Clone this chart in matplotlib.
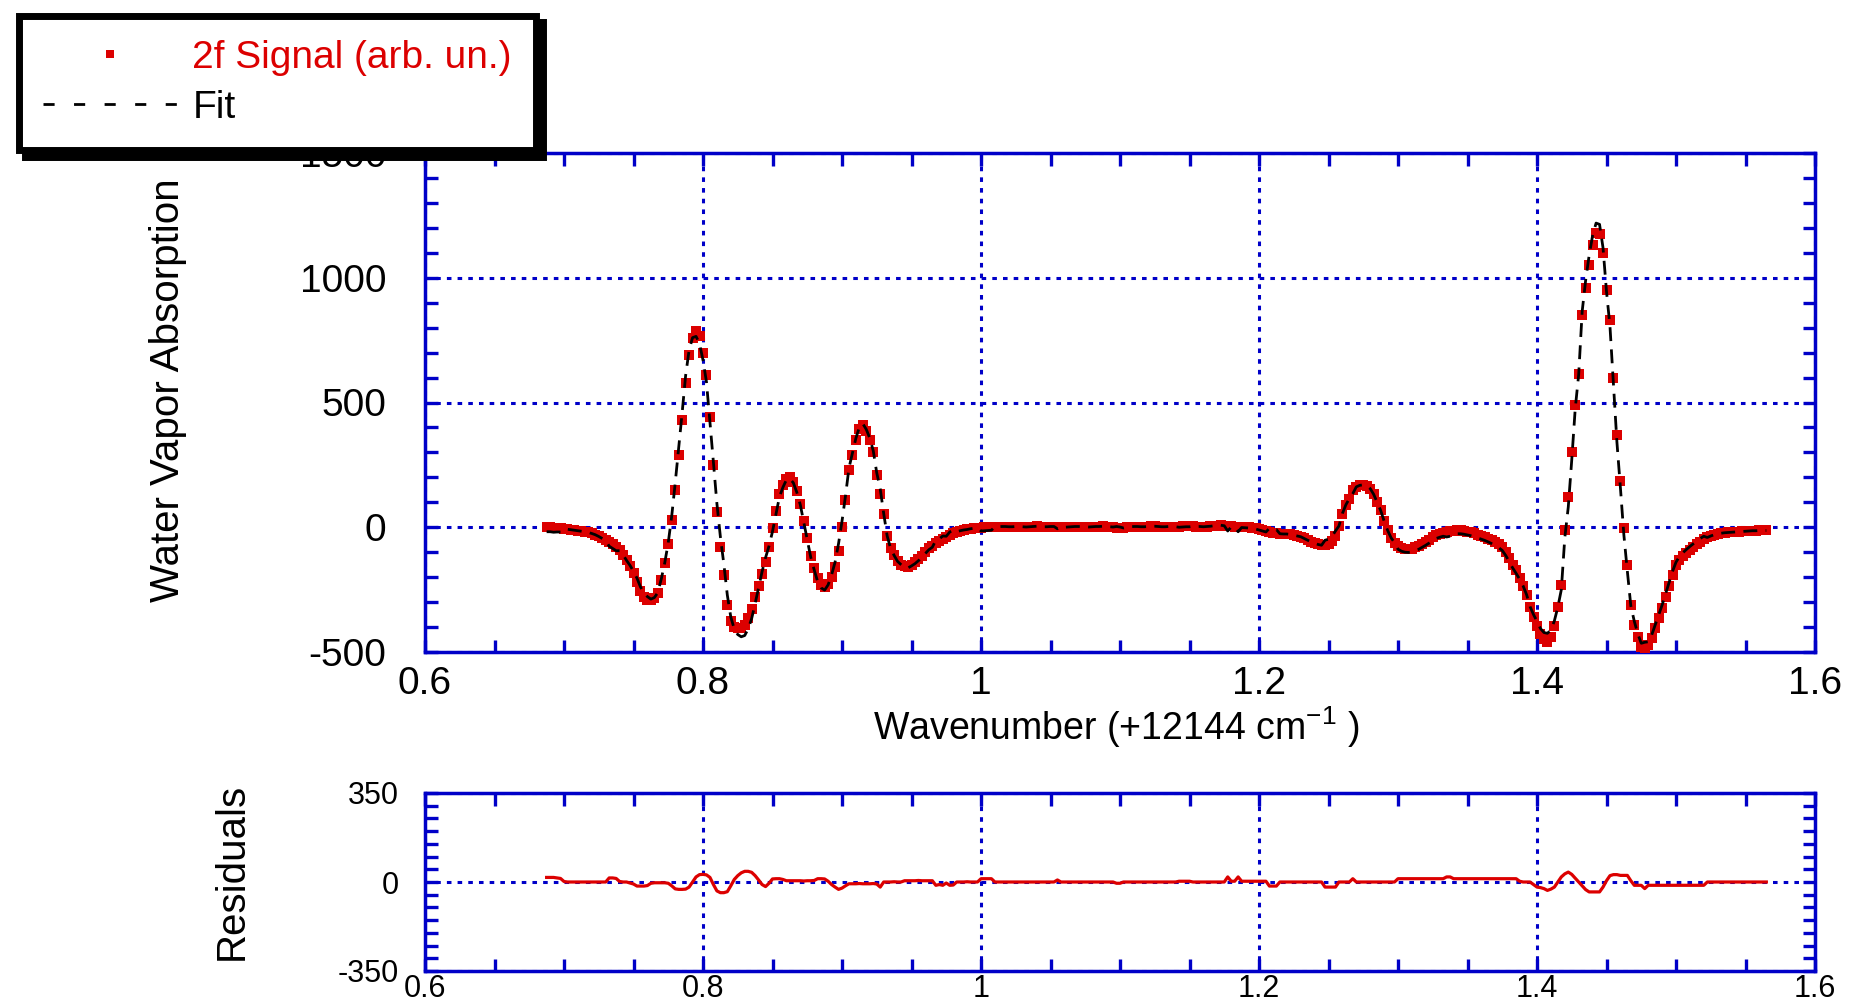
import numpy as np
import matplotlib.pyplot as plt
from matplotlib.lines import Line2D
from matplotlib.ticker import MultipleLocator, FuncFormatter

plt.rcParams['font.family'] = ['Liberation Sans', 'DejaVu Sans']
plt.rcParams['mathtext.default'] = 'regular'
plt.rcParams['axes.unicode_minus'] = False

RED = '#dc0000'
BLUE = '#0000c8'

# sampling step of the scan (wavenumber offset, +12144 cm-1)
STEP = 0.0025
seg_starts = [0.6875, 1.0025, 1.2000]

# 2f signal (rows of 10 samples)
signal_a = [
    0, 0, -2, -3, -5, -6, -8, -10, -12, -14,
    -16, -18, -21, -25, -30, -37, -45, -53, -60, -69,
    -80, -92, -110, -133, -157, -185, -220, -255, -280, -292,
    -293, -285, -265, -210, -145, -67, 30, 150, 290, 430,
    580, 690, 760, 785, 765, 700, 610, 440, 250, 60,
    -80, -190, -310, -375, -398, -405, -403, -392, -365, -328,
    -281, -235, -188, -140, -80, -5, 65, 135, 170, 195,
    200, 183, 145, 95, 25, -45, -115, -165, -205, -230,
    -240, -228, -201, -160, -95, 0, 110, 230, 290, 350,
    395, 408, 385, 350, 300, 210, 134, 55, -35, -85,
    -112, -137, -150, -157, -158, -150, -141, -128, -114, -100,
    -85, -75, -65, -57, -48, -40, -32, -24, -18, -14,
    -11, -8, -6, -4, -3, -2,
]
signal_b = [
    -1, 0, 1, 2, 2, 3, 3, 2, 2, 3,
    3, 2, 1, 2, 3, 4, 3, 2, 2, 3,
    3, 2, 1, 0, 1, 2, 3, 3, 2, 2,
    1, 2, 3, 3, 4, 3, 2, 1, -2, -4,
    -3, 0, 2, 3, 3, 2, 2, 3, 4, 4,
    3, 2, 2, 3, 3, 2, 3, 4, 5, 5,
    4, 3, 3, 2, 3, 4, 6, 7, 8, 6,
    5, 4, 3, 2, 2, 1, 0, -2, -4,
]
signal_c = [
    -8, -12, -16, -20, -24, -25, -26, -27, -27, -29,
    -32, -35, -38, -45, -52, -58, -64, -69, -72, -72,
    -68, -57, -35, 5, 55, 90, 115, 148, 162, 168,
    170, 166, 155, 132, 100, 68, 25, -12, -42, -62,
    -75, -83, -87, -88, -86, -81, -75, -67, -59, -50,
    -40, -32, -27, -23, -19, -16, -14, -13, -13, -15,
    -18, -21, -25, -30, -35, -40, -46, -53, -61, -69,
    -80, -100, -125, -150, -172, -205, -235, -270, -318, -360,
    -397, -428, -448, -458, -440, -395, -320, -230, -10, 120,
    300, 490, 613, 850, 960, 1050, 1130, 1180, 1175, 1100,
    950, 830, 600, 370, 185, -5, -150, -310, -390, -440,
    -478, -487, -472, -445, -405, -365, -325, -280, -235, -190,
    -153, -130, -115, -102, -90, -79, -68, -58, -49, -41,
    -35, -30, -27, -24, -22, -21, -20, -19, -18, -17,
    -16, -15, -14, -14, -13, -13, -13,
]

# residuals (signal - fit), same sampling
resid_a = [
    18, 18, 18, 16, 14, 2, 0, 0, 0, 0,
    0, 0, 0, 0, 0, 0, 0, 0, 16, 16,
    14, 2, 0, 0, -4, -8, -16, -16, -16, -14,
    -5, -3, -3, -3, -3, -5, -15, -27, -29, -29,
    -28, -20, 0, 20, 29, 30, 28, 18, -10, -35,
    -42, -42, -38, -15, 10, 25, 36, 42, 42, 38,
    25, 8, -10, -18, -5, 12, 13, 13, 10, 5,
    5, 5, 5, 5, 4, 5, 5, 6, 13, 13,
    12, 3, -10, -20, -29, -24, -15, -7, -7, -7,
    -6, -7, -7, -7, -6, -8, -20, 0, 0, 0,
    1, 0, 0, 5, 5, 5, 5, 6, 5, 5,
    5, 5, -13, -10, -13, -4, -13, -12, 0, 0,
    0, 1, 0, 0, 0, 13,
]
resid_b = [
    13, 13, 13, 0, 0, 0, 0, 0, 0, 0,
    0, 0, 0, 0, 0, 0, 0, 0, 0, 0,
    0, 8, 0, 0, 0, 0, 0, 0, 0, 0,
    0, 0, 0, 0, 0, 0, 0, 0, -5, -5,
    0, 0, 0, 0, 0, 0, 0, 0, 0, 0,
    0, 0, 0, 0, 0, 0, 3, 3, 3, 3,
    0, 0, 0, 0, 0, 0, 0, 0, 0, 0,
    20, 3, 3, 20, 3, 3, 3, 3, 3,
]
resid_c = [
    3, 3, 3, -16, -16, -16, 0, 0, 0, 0,
    0, 0, 0, 0, 0, 0, 0, 0, 0, -20,
    -20, -20, -20, 0, 0, 0, 0, 13, 0, 0,
    0, 0, 0, 0, 0, 0, 0, 0, 0, 0,
    13, 13, 13, 13, 13, 13, 13, 13, 13, 13,
    13, 13, 13, 13, 20, 20, 13, 13, 13, 13,
    13, 13, 13, 13, 13, 13, 13, 13, 13, 13,
    13, 13, 13, 13, 13, 3, 0, 0, 0, -10,
    -20, -22, -26, -33, -28, -20, 0, 20, 32, 39,
    30, 15, 0, -15, -30, -39, -39, -39, -39, -20,
    5, 25, 29, 29, 26, 26, 26, 5, -13, -13,
    -13, -26, -13, -13, -13, -13, -13, -13, -13, -13,
    -13, -13, -13, -13, -13, -13, -13, -13, -13, 0,
    0, 0, 0, 0, 0, 0, 0, 0, 0, 0,
    0, 0, 0, 0, 0, 0, 0,
]

signal_segs = [signal_a, signal_b, signal_c]
resid_segs = [resid_a, resid_b, resid_c]

x = np.concatenate([s + STEP * np.arange(len(seg)) for s, seg in zip(seg_starts, signal_segs)])
signal = np.concatenate([np.array(seg, float) for seg in signal_segs])
resid = np.concatenate([np.array(seg, float) for seg in resid_segs])
fit = signal - resid

W, H = 1855, 1002
fig = plt.figure(figsize=(W / 100, H / 100), dpi=100)
ax = fig.add_axes([425 / W, 1 - 652 / H, 1390 / W, 499 / H])
ax2 = fig.add_axes([425 / W, 1 - 971 / H, 1390 / W, 178 / H])

fmt = FuncFormatter(lambda v, p: '%g' % round(v, 3))


def style(a, labelsize, xpad, ypad):
    for sp in a.spines.values():
        sp.set_color(BLUE)
        sp.set_linewidth(2.5)
    a.tick_params(which='both', direction='in', top=True, right=True,
                  color=BLUE, width=2.4, length=9, labelsize=labelsize)
    a.tick_params(axis='x', pad=xpad)
    a.tick_params(axis='y', pad=ypad)
    a.grid(True, which='major', color=BLUE, linestyle=(0, (1.5, 2)), linewidth=2.2)
    a.set_xlim(0.6, 1.6)
    a.xaxis.set_major_locator(MultipleLocator(0.2))
    a.xaxis.set_minor_locator(MultipleLocator(0.05))
    a.xaxis.set_major_formatter(fmt)


# main panel
ax.plot(x, signal, ls='none', marker='s', ms=6.6, mew=0, color=RED, zorder=3)
ax.plot(x, fit, ls=(0, (5, 3)), color='black', lw=2, zorder=4)
style(ax, 28, 10, 28)
ax.set_ylim(-500, 1500)
ax.yaxis.set_major_locator(MultipleLocator(500))
ax.yaxis.set_minor_locator(MultipleLocator(100))
ax.set_xlabel('Wavenumber (+12144 cm$^{-1}$ )', fontsize=27)
ax.xaxis.set_label_coords(0.497, -0.105)
ax.set_ylabel('Water Vapor Absorption', fontsize=29)
ax.yaxis.set_label_coords(-0.171, 0.525)

# residual panel
ax2.plot(x, resid, color=RED, lw=2.3, zorder=3)
style(ax2, 22, 2, 19)
ax2.set_ylim(-350, 350)
ax2.set_yticks([-350, 0, 350])
ax2.yaxis.set_minor_locator(MultipleLocator(50))
ax2.set_ylabel('Residuals', fontsize=29)
ax2.yaxis.set_label_coords(-0.125, 0.56)

# legend box with hard black shadow
h_sig = Line2D([], [], ls='none', marker='s', ms=6.4, mew=0, color=RED)
h_fit = Line2D([], [], ls=(0, (4, 7)), color='black', lw=2)
leg = fig.legend([h_sig, h_fit], ['2f Signal (arb. un.)', 'Fit'],
                 loc='upper left', bbox_to_anchor=(18.5 / W, 1 - 15.5 / H),
                 bbox_transform=fig.transFigure, borderaxespad=0,
                 fontsize=28, labelcolor=[RED, 'black'], numpoints=1,
                 handlelength=3.45, handletextpad=0.4, borderpad=0.62,
                 labelspacing=0.36, fancybox=False, framealpha=1,
                 edgecolor='black',
                 shadow={'ox': 5, 'oy': -5, 'facecolor': 'black',
                         'edgecolor': 'black', 'alpha': 1})
leg.get_frame().set_linewidth(5)

fig.savefig('out.png', dpi=100)
